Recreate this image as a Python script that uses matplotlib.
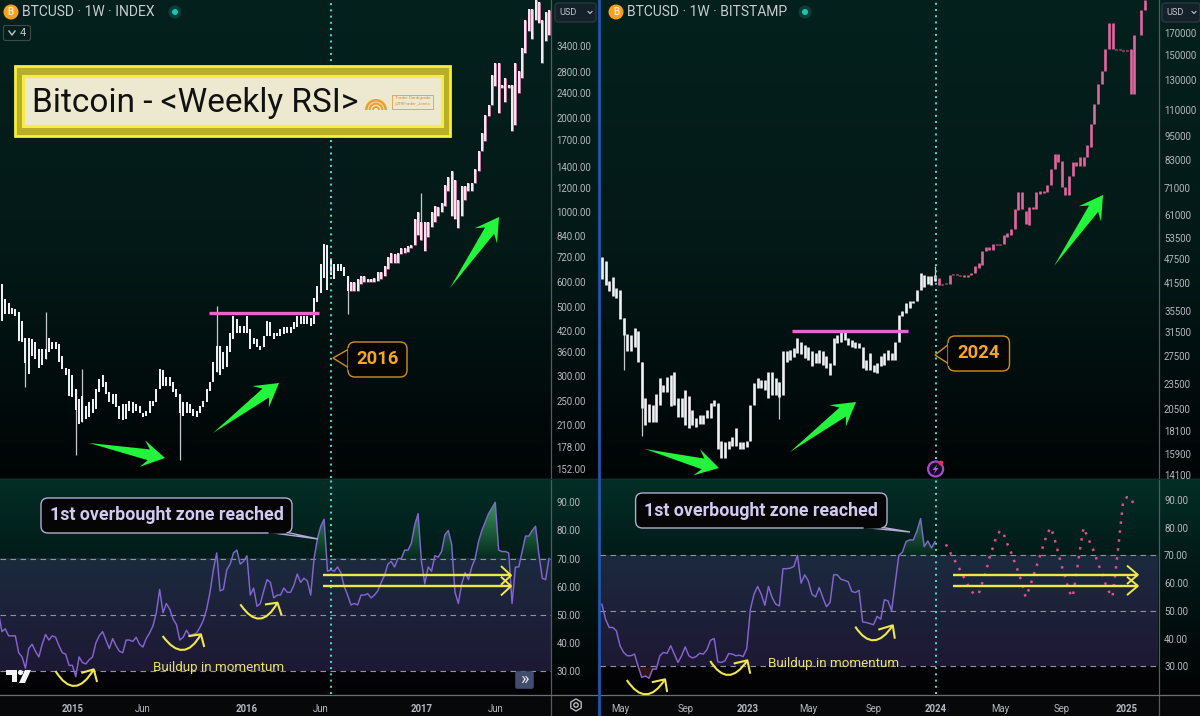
import numpy as np
import matplotlib
matplotlib.use("Agg")
import matplotlib.pyplot as plt
from matplotlib.patches import Polygon, FancyBboxPatch, Rectangle, Circle, PathPatch, Wedge, RegularPolygon
from matplotlib.path import Path
from matplotlib.colors import LinearSegmentedColormap

plt.rcParams['font.family'] = ['Roboto', 'DejaVu Sans']

# ---------- DATA ----------
left_top = [590,529,516,497,491,480,452,399,399,394,385,367,367,367,399,385,385,380,349,320,317,302,274,254,260,242,248,254,274,295,302,287,267,264,264,242,245,245,251,248,245,242,230,233,251,251,274,317,314,298,298,287,274,264,248,248,245,236,233,242,251,274,287,333,376,376,358,376,414,468,457,435,435,468,424,399,394,376,404,452,446,414,414,424,430,430,430,446,468,468,468,468,462,535,584,684,793,785,713,684,684,684,668,625,598,598,612,625,625,612,612,620,645,645,675,720,745,735,740,770,770,780,790,950,1000,935,935,935,1000,1050,1040,1075,1220,1300,1360,1270,1100,1215,1215,1245,1245,1375,1570,1795,2050,2210,2750,3000,3000,2550,2680,2550,2550,3000,2820,3340,4110,4470,4470,4760,4700,4110,4360,4420]
left_bot = [452,474,474,474,468,390,385,330,305,349,341,320,325,340,358,367,367,333,317,302,260,257,235,212,214,219,222,230,236,267,277,264,248,245,240,219,217,219,233,230,233,230,222,225,230,242,248,274,280,280,280,267,257,230,225,230,230,225,222,230,239,248,270,287,309,302,317,322,358,394,414,414,414,414,367,380,371,364,371,404,404,394,404,404,410,414,414,424,430,440,440,440,435,440,519,555,620,565,632,615,653,653,625,560,560,560,560,590,598,598,598,598,605,612,625,660,690,690,690,735,740,750,770,790,845,820,755,835,900,935,975,1000,1050,1170,975,950,890,975,1100,1170,1170,1245,1360,1570,1690,2030,2200,2540,2070,2490,2260,2490,1815,1900,2400,2680,3220,3800,3570,4110,4020,2990,3530,3690]
left_wicks = {7:(399,277),13:(480,340),22:(274,168),24:(317,214),53:(264,162),64:(504,309),103:(625,473),125:(1155,820)}
left_rsi = [50.7,44,45,42.5,42.5,42.5,36.5,35,31,38,39.5,37,35,39.5,43,41,42.5,42,39,36.5,36,32,32,28,35,33,32.5,34,35,40,42.5,44,41,38,41.5,39,37,36.5,41,41,40.5,42,39.5,38.5,41.5,43.5,46,50.7,59,50.7,54,52,48.5,46.5,41,42,44.5,42.5,43,43.5,45.5,48,52,58,66,72,58.5,59,66,68,72,73,68,69,71,57,59.5,53,54,58.5,62.5,61.5,56,57,57,59.5,58,58,60.5,64.5,61.5,63,62,57,70,77,81.5,84,65.5,66,65.5,67,65,60,57,53.5,54,53.5,57,57,57.5,56,57,58.5,61.5,64,68,69,67,70,70,73,73,75.5,82,86,69,61,67,65.5,71,70.5,72.5,78.5,80,75,58,54,61,65,62.5,67,70,76,80,83,86,88,90,73,72.5,72.5,72,54,67,67,72.5,78,78,80,81.5,71.5,63,62.5,70]
left_price_ticks = [3400,2800,2400,2000,1700,1400,1200,1000,840,720,600,500,420,360,300,250,210,178,152]
left_time_pos = [21.1,42,73,95,125,147]
left_time_lab = ['2015','Jun','2016','Jun','2017','Jun']
left_marker_week = 98
left_resistance = 478
left_res_span = (61.6,94.5)

right_top = [48000,47000,42000,43000,40450,39950,34100,31200,31000,32250,31650,26700,21700,21000,20900,22300,24300,23400,24500,24800,25250,21700,21700,22800,22000,20350,19400,19800,19800,20350,21100,21500,21100,17100,17000,17100,17500,18350,17000,17000,17100,20900,23650,24300,24100,24100,25250,25250,24300,23850,28300,28300,28550,28800,30450,29900,29300,29050,28300,28050,28550,28300,27500,26450,30450,31000,31650,31650,30450,30150,29900,29600,29050,27000,28050,26200,26450,27500,28050,28550,28050,29900,34750,35450,37150,37500,37500,39950,44000,43600,43200,43200,43600,
             42800,41400,41500,43600,43800,43800,43600,43600,43600,44000,45700,46600,49900,50900,50900,51700,51700,51700,54500,55000,56200,63000,69300,69300,62400,63700,63700,69300,69600,69600,72000,79000,85700,85700,82800,71500,76000,82000,82000,84500,84500,90500,101500,113800,127600,137000,155500,180000,180000,155000,155000,154200,154200,155000,168000,168000,193000,204500]
right_bot = [42500,41200,39700,38600,38200,34000,31000,28300,28300,29000,26700,20550,18700,19050,19050,19050,20900,22550,22550,20750,20900,19600,19600,18700,18350,18700,18500,18850,18850,19400,19400,20750,16350,15550,15550,16350,16650,16650,16350,16350,16500,17100,20900,23000,23000,22750,21700,22150,22150,21900,22150,26700,27000,27450,28000,27800,27200,27000,26000,26450,26450,26200,25700,24800,26200,29600,29900,30150,29300,29050,28800,28800,25700,25450,25450,25250,25000,26000,26200,27000,27000,27000,29900,34500,35100,36100,37150,37500,39950,40700,41400,41200,42000,
             41200,41200,41300,41400,43500,43400,43200,43000,43000,43400,44000,45300,46000,49700,50200,50000,51400,51400,51700,54000,54500,56200,62700,63100,57800,57500,63100,63100,68800,69100,69300,72000,78900,82000,71500,68300,68300,76000,80500,80500,80500,84500,89300,102000,113800,127600,137000,155500,155000,154000,154000,153800,153800,120500,120500,167500,168000,193000]
right_wicks = {6:(34100,25500),11:(26700,17600),49:(23850,19300),92:(45700,42000)}
right_rsi = [52.4,47,44,44,42.8,37.4,35,33.8,33.8,34.4,30,26,26.5,25.7,29,29,33.8,35,34.7,37.4,34.4,31.4,33.8,37,33.8,33,33.5,34.7,34.4,36,39.4,40,31.6,31.4,32,34.6,34.4,33.8,34,33.5,36.4,50.6,56,58.8,56,52,58.8,54.8,52.4,51.8,65.2,65.2,65.4,66,70,60,63,60.8,56,55,58.4,54.8,51.5,53,63,63,61.4,61,60.5,57,56.6,57.4,46,45.8,45.4,45,48,47,54,53.6,50,60.2,70,71.2,75,75.6,75.6,78.8,83.3,73.2,75.2,72.7,75]
right_proj_start = 95
right_proj = [74,71.5,69,67,64.5,62,59.5,57,56,56,60,64,69,73,77,79,77.5,74,71,67.5,64,60,55,58,62,66,70,74,78,80,76,71,66,62,57,55,63,72,80,77,74,71,67,64,60,57,55,66,78,90,91,91,88]
right_price_ticks = [170000,150000,130000,110000,95000,83000,71000,61000,53500,47500,41500,35500,31500,27500,23500,20500,18100,15900,14100]
right_time_pos = [5,23,40.2,57,75,92.2,110,127,145]
right_time_lab = ['May','Sep','2023','May','Sep','2024','May','Sep','2025']
right_marker_week = 92.2
right_resistance = 31700
right_res_span = (52.6,84.6)
rsi_ticks = [90,80,70,60,50,40,30]
rsi_levels = [70,50,30]
left_channel = (64,60.2)
left_channel_span = (95.7,151.7)
right_channel = (63,59)
right_channel_span = (97,148)

# ---------- FIGURE ----------
W, H = 1200, 716
fig = plt.figure(figsize=(W/100, H/100), dpi=100)

def add_ax(x, y, w, h, **kw):
    return fig.add_axes([x/W, 1-(y+h)/H, w/W, h/H], **kw)

def ramp(ys, stops):
    pos = [s[0] for s in stops]
    return np.stack([np.interp(ys, pos, [s[1][c] for s in stops]) for c in range(3)], axis=1)

ys = np.arange(H) + .5
img = np.zeros((H, W, 3))
top = ramp(ys, [(0,(3,33,29)),(250,(3,25,23)),(478,(0,4,5)),(479,(3,46,38)),(555,(1,27,25)),(694,(1,2,3)),(695,(6,8,10)),(716,(6,8,10))])
img[:] = top[:, None, :]
for x0, x1, y70, y30 in [(0,551,558,671),(600,1158,555,666)]:
    col = ramp(ys, [(0,(3,33,29)),(250,(3,25,23)),(478,(0,4,5)),(479,(3,46,38)),(y70,(1,27,25)),
                    (y70+.5,(27,42,62)),(y30,(30,24,52)),(y30+.5,(5,4,9)),(694,(1,2,3)),(695,(6,8,10)),(716,(6,8,10))])
    img[:, x0:x1] = col[:, None, :]
bg = fig.add_axes([0,0,1,1], zorder=-5)
bg.imshow(img/255, extent=(0,W,H,0), aspect='auto', interpolation='nearest')
bg.set_xlim(0,W); bg.set_ylim(H,0); bg.axis('off')
bg.plot([551,551],[0,716],color='#565a60',lw=.9)
bg.plot([1158.5,1158.5],[0,716],color='#565a60',lw=.9)
bg.plot([0,1200],[694.5,694.5],color='#6a6e74',lw=.9)
bg.plot([0,1200],[478.5,478.5],color='#10302c',lw=.8)
bg.plot([599,599],[0,716],color='#1f56b0',lw=2)

TICK = '#b4b8be'
CYAN = '#45e0d6'
def style_axes(ax):
    ax.patch.set_alpha(0)
    for s in ax.spines.values():
        s.set_visible(False)
    ax.yaxis.tick_right()
    ax.tick_params(axis='both', length=0, labelsize=6.9, labelcolor=TICK, pad=4)

def draw_price(ax, top_, bot_, wicks, ticks, fmt, xlim, ylim, split, cols, width, edge=None):
    x = np.arange(len(top_))
    top_, bot_ = np.array(top_, float), np.array(bot_, float)
    ax.set_yscale('log')
    for i, (hi, lo) in wicks.items():
        ax.vlines(i, lo, hi, color='#c6c8cc', lw=.9)
    if edge:
        ax.vlines(x[x > split], bot_[x > split], top_[x > split], colors=edge, lw=width+.55)
    colours = [cols[0] if i <= split else cols[1] for i in x]
    ax.vlines(x, bot_, top_, colors=colours, lw=width)
    ax.set_xlim(*xlim); ax.set_ylim(*ylim)
    ax.set_yticks(ticks); ax.set_yticklabels([fmt(t) for t in ticks])
    ax.minorticks_off()
    ax.set_xticks([])
    style_axes(ax)

p1 = add_ax(0,0,551,478)
draw_price(p1, left_top, left_bot, left_wicks, left_price_ticks, lambda t: f'{t:.2f}',
           (-0.57,163.6), (142.2,4764), 103, ('#eeeff2','#f7e6ee'), 1.45, edge='#dc7fb0')
p1.hlines(left_resistance, *left_res_span, color='#e765cf', lw=2.4)
p1.axvline(left_marker_week, color=CYAN, lw=1.4, ls=(0,(1,2.2)))

p2 = add_ax(600,0,558.5,478)
draw_price(p2, right_top, right_bot, right_wicks, right_price_ticks, lambda t: f'{t}',
           (-0.53,153.7), (13870,204500), 92, ('#f0f1f4','#e4649f'), 1.9)
p2.hlines(right_resistance, *right_res_span, color='#e765cf', lw=2.4)
p2.axvline(right_marker_week, color=CYAN, lw=1.4, ls=(0,(1,2.2)), ymin=.04)

cm = LinearSegmentedColormap.from_list('g', [(0.2,.62,.35,.12),(0.3,.72,.42,.85)])
def draw_rsi(ax, x, rsi, xlim, ylim, tpos, tlab, vx):
    x = np.asarray(x, float); rsi = np.asarray(rsi, float)
    for lv in rsi_levels:
        ax.axhline(lv, color='#8f939c', lw=.8, ls=(0,(5,4)))
    poly = ax.fill_between(x, 70, rsi, where=rsi>70, interpolate=True, facecolor='none', edgecolor='none')
    im = ax.imshow(np.linspace(0,1,64)[:,None], extent=(xlim[0],xlim[1],70,92), origin='lower', aspect='auto', cmap=cm, zorder=1)
    im.set_clip_path(Path.make_compound_path(*poly.get_paths()), transform=ax.transData)
    ax.fill_between(x, 30, rsi, where=rsi<30, interpolate=True, color='#6a2a2a', alpha=.45, lw=0)
    ax.plot(x, rsi, color='#8464cf', lw=1.05, zorder=3)
    ax.axvline(vx, color=CYAN, lw=1.4, ls=(0,(1,2.2)), zorder=4)
    ax.set_xlim(*xlim); ax.set_ylim(*ylim)
    ax.set_yticks(rsi_ticks); ax.set_yticklabels([f'{t:.2f}' for t in rsi_ticks])
    ax.set_xticks(tpos); ax.set_xticklabels(tlab)
    style_axes(ax)
    ax.tick_params(axis='x', pad=7)
    for lab in ax.get_xticklabels():
        if lab.get_text().isdigit():
            lab.set_fontweight('bold')

r1 = add_ax(0,479.3,551,215)
draw_rsi(r1, np.arange(len(left_rsi))-1, left_rsi, (-0.57,163.6), (21.7,98.2),
         left_time_pos, left_time_lab, left_marker_week)
r2 = add_ax(600,479.3,558.5,215)
draw_rsi(r2, np.arange(len(right_rsi)), right_rsi, (-0.53,153.7), (19.9,97.45),
         right_time_pos, right_time_lab, right_marker_week)
r2.plot(np.arange(len(right_proj))+right_proj_start, right_proj, color='#d9508c', lw=1.8, ls=(0,(1,2.6)), zorder=3)

for ax, levels, span in [(r1,left_channel,left_channel_span), (r2,right_channel,right_channel_span)]:
    for lv in levels:
        ax.hlines(lv, *span, color='#f1e64a', lw=1.7, zorder=5)
        ax.plot([span[1]-2.8,span[1],span[1]-2.8],[lv+3.1,lv,lv-3.1], color='#f1e64a', lw=1.4, zorder=5)

# ---------- OVERLAY ----------
ov = fig.add_axes([0,0,1,1], zorder=10)
ov.set_xlim(0,W); ov.set_ylim(H,0); ov.axis('off'); ov.patch.set_alpha(0)

def green_arrow(tail, tip, w=10, W_=18, hl=23):
    t, p = np.array(tail,float), np.array(tip,float)
    d = (p-t)/np.hypot(*(p-t)); n = np.array([-d[1],d[0]])
    b = p-d*hl; nk = p-d*(hl*.72)
    pts = [t, nk+n*w*.55, b+n*W_*.75, p, b-n*W_*.75, nk-n*w*.55]
    ov.add_patch(Polygon(pts, closed=True, fc='#22f53c', ec='none', zorder=6))

for a in [((89,443),(165,458)),((213,433),(279,383)),((450,288),(499,217)),
          ((645,449),(719,468)),((790,452),(856,402)),((1054,266),(1103,195))]:
    green_arrow(*a)

def swoosh(off, base, start, low, end, b1, b2):
    f = lambda q: (off+q[0]/2.613, base+q[1]/3)
    ctrl = (low[0], 2*low[1]-(start[1]+end[1])/2)
    path = Path([f(start), f(ctrl), f(end)], [Path.MOVETO, Path.CURVE3, Path.CURVE3])
    ov.add_patch(PathPatch(path, fc='none', ec='#f1e64a', lw=1.5, zorder=6))
    ov.plot(*zip(f(b1), f(end), f(b2)), color='#f1e64a', lw=1.5, zorder=6)

swoosh(0,476,(145,585),(195,630),(245,580),(215,590),(253,615))
swoosh(0,476,(425,480),(480,522),(525,475),(495,480),(533,510))
swoosh(0,476,(628,385),(680,428),(725,380),(695,385),(735,415))
swoosh(600,476,(70,612),(120,655),(170,610),(138,618),(175,645))
swoosh(600,476,(288,555),(335,597),(385,553),(352,562),(392,590))
swoosh(600,476,(667,452),(715,493),(765,448),(730,460),(770,485))

ov.text(218.5,668,'Buildup in momentum',color='#e8e070',fontsize=9.6,ha='center',va='center',zorder=7)
ov.text(833.5,664,'Buildup in momentum',color='#e8e070',fontsize=9.6,ha='center',va='center',zorder=7)

def callout(x0,y0,x1,y1,tip,base,txt,ec,tc,fs,r=7):
    ov.add_patch(Polygon([base[0],tip,base[1]],closed=True,fc='#050506',ec=ec,lw=1,zorder=7))
    ov.add_patch(FancyBboxPatch((x0+r,y0+r),x1-x0-2*r,y1-y0-2*r,boxstyle=f'round,pad={r},rounding_size={r}',fc='#050506',ec=ec,lw=1,zorder=7.1))
    ov.plot(*zip(base[0],base[1]),color='#050506',lw=2,zorder=7.2)
    ov.text((x0+x1)/2,(y0+y1)/2,txt,color=tc,fontsize=fs,fontweight='bold',ha='center',va='center',zorder=8)

callout(348,342,407,377,(333,358),((349,349),(349,368)),'2016','#d48e1e','#f5a623',13.2)
callout(948,336,1009.5,371,(935,355),((949,344),(949,364)),'2024','#d48e1e','#f5a623',13.2)
callout(41,498,292,533,(318,539),((285,532),(270,532.5)),'1st overbought zone reached','#b3abd4','#d3c9f2',12.8)
callout(635.6,493,887,528,(910,532),((880,527),(865,527.5)),'1st overbought zone reached','#b3abd4','#d3c9f2',12.8)

# title plate
ov.add_patch(Rectangle((15,66),434.5,70,fc='#b9ae2a',ec='#f6ee3c',lw=2,zorder=7))
ov.add_patch(Rectangle((23,75.5),419,50,fc='#ece9d0',ec='#f6ee3c',lw=2.2,zorder=7.1))
ov.text(32,103,'Bitcoin - <Weekly RSI>',color='#111111',fontsize=24,ha='left',va='center',zorder=8)
for r_, lw_ in [(11,2.6),(7.5,2.2),(4,2)]:
    ov.add_patch(Wedge((376,110),r_,180,360,width=lw_,fc='#e8a033',ec='none',zorder=8))
ov.add_patch(Rectangle((392,94.5),41,14,fc='none',ec='#e2a75a',lw=.7,zorder=8))
ov.text(412.5,98.5,'Trader Dardigrade',color='#d98f3a',fontsize=3.2,ha='center',va='center',zorder=8)
ov.text(412.5,104.2,'@TRFrader_Jones',color='#d98f3a',fontsize=3.2,ha='center',va='center',zorder=8)

# header
for cx, tx, dx, s in [(11,22,175,'BTCUSD · 1W · INDEX'),(616,627,805,'BTCUSD · 1W · BITSTAMP')]:
    ov.add_patch(Circle((cx,12),7.5,fc='#f7a11f',ec='none',zorder=8))
    ov.text(cx,12.2,'B',color='#ffe9c0',fontsize=7,fontweight='bold',ha='center',va='center',zorder=9)
    ov.text(tx,12,s,color='#c9ccd0',fontsize=10,ha='left',va='center',zorder=8)
    ov.add_patch(Circle((dx,12),6.5,fc='#0b3d3a',ec='none',zorder=8))
    ov.add_patch(Circle((dx,12),3,fc='#19c7ae',ec='none',zorder=9))
ov.add_patch(FancyBboxPatch((5,27),24,12,boxstyle='round,pad=1.5,rounding_size=2',fc='none',ec='#3c4a4c',lw=.8,zorder=8))
ov.plot([9,12,15],[31,35,31],color='#c3c6ca',lw=1,zorder=8)
ov.text(23,32.5,'4',color='#c3c6ca',fontsize=8,ha='center',va='center',zorder=8)
for x0, w_ in [(556,39),(1163,36)]:
    ov.add_patch(FancyBboxPatch((x0,4),w_,17,boxstyle='round,pad=1,rounding_size=3',fc='#14202a',ec='#2b3a46',lw=.9,zorder=8))
    ov.text(x0+3,12.5,'USD',color='#c3c6ca',fontsize=6.6,ha='left',va='center',zorder=9)
    ov.plot([x0+w_-7,x0+w_-5,x0+w_-3],[11.5,13.5,11.5],color='#c3c6ca',lw=.8,zorder=9)

# event badge
ov.add_patch(Circle((935.6,469),7.5,fc='#140c22',ec='#a04ccc',lw=1.6,zorder=8))
ov.add_patch(Polygon([(937.5,464),(932.5,470),(935.5,470),(933.5,474.5),(938.5,468),(935.8,468)],fc='#a860e0',ec='none',zorder=9))
ov.add_patch(Circle((941,463),2.4,fc='#e8344a',ec='none',zorder=9))

# TradingView mark
ov.add_patch(Polygon([(6,670),(17,670),(17,682),(12,682),(12,675),(6,675)],fc='#f4f4f4',ec='none',zorder=8))
ov.add_patch(Circle((20.5,672.5),2.6,fc='#f4f4f4',ec='none',zorder=8))
ov.add_patch(Polygon([(25,670),(31,670),(25,683),(19,683)],fc='#f4f4f4',ec='none',zorder=8))
# scroll button
ov.add_patch(FancyBboxPatch((516,672),17,16,boxstyle='round,pad=.8,rounding_size=2',fc='#414d6c',ec='none',zorder=8))
ov.text(524.5,679,'»',color='#e8eaf0',fontsize=13,ha='center',va='center',zorder=9)
# settings gear
ov.add_patch(RegularPolygon((576,705),6,radius=6,fc='none',ec='#b4b8be',lw=1,zorder=8))
ov.add_patch(Circle((576,705),2.2,fc='none',ec='#b4b8be',lw=1,zorder=8))

fig.savefig('out.png', dpi=100)
